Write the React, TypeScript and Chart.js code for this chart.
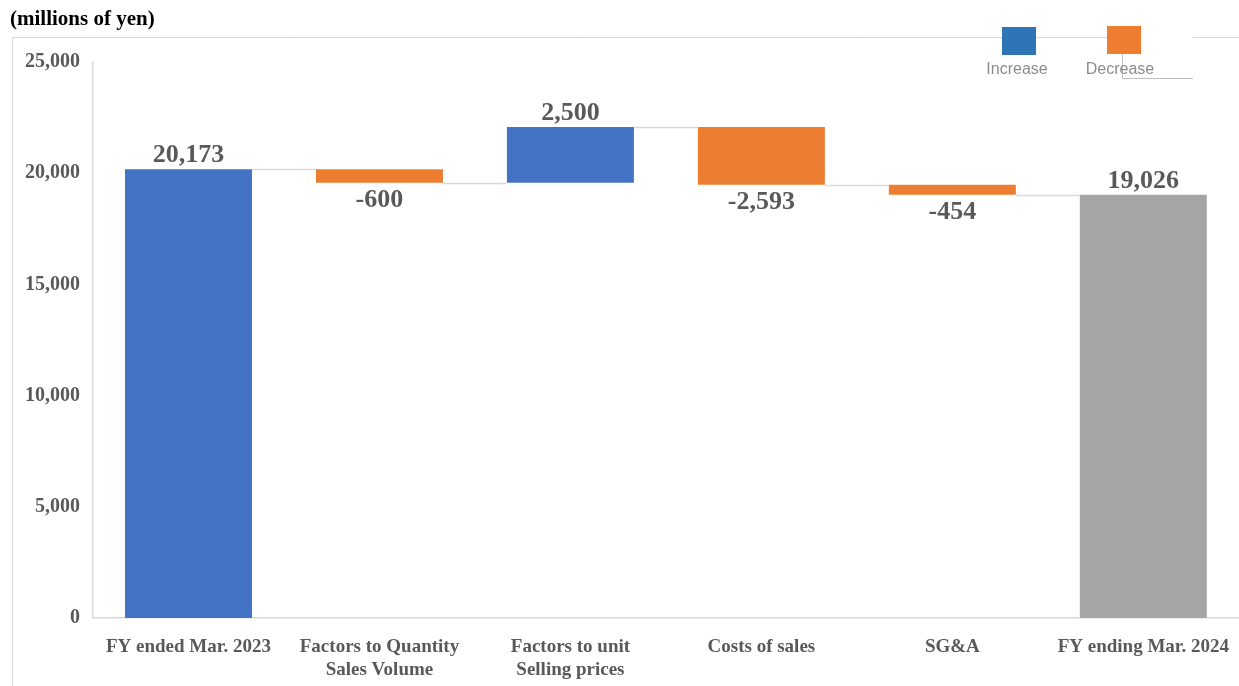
import React, { useEffect, useRef } from "react";
import { Chart, registerables } from "chart.js";

Chart.register(...registerables);

const categories: string[][] = [
  ["FY ended Mar. 2023"],
  ["Factors to Quantity", "Sales Volume"],
  ["Factors to unit", "Selling prices"],
  ["Costs of sales"],
  ["SG&A"],
  ["FY ending Mar. 2024"],
];
const changes = [20173, -600, 2500, -2593, -454, 19026];
const kinds = ["total", "change", "change", "change", "change", "total"];
const barColors = ["#4472C4", "#ED7D31", "#4472C4", "#ED7D31", "#ED7D31", "#A5A5A5"];
const yTicks = [0, 5000, 10000, 15000, 20000, 25000];
const legendItems = [
  { label: "Increase", color: "#2E75B6" },
  { label: "Decrease", color: "#ED7D31" },
];

const fmt = (v: number) => v.toLocaleString("en-US");

function buildRanges() {
  const ranges: [number, number][] = [];
  const levels: number[] = [];
  let run = 0;
  changes.forEach((c, i) => {
    if (kinds[i] === "total") {
      ranges.push([0, c]);
      run = c;
    } else {
      ranges.push([run, run + c]);
      run = run + c;
    }
    levels.push(run);
  });
  return { ranges, levels };
}

export default function App() {
  const ref = useRef<HTMLCanvasElement | null>(null);
  useEffect(() => {
    const { ranges, levels } = buildRanges();
    const SERIF = "'Liberation Serif', 'Times New Roman', serif";

    const overlay = {
      id: "overlay",
      beforeDraw(chart: any) {
        const ctx = chart.ctx;
        ctx.save();
        ctx.fillStyle = "#fff";
        ctx.fillRect(0, 0, chart.width, chart.height);
        // frame
        ctx.strokeStyle = "#D9D9D9";
        ctx.lineWidth = 1;
        ctx.beginPath();
        ctx.moveTo(12.5, 686);
        ctx.lineTo(12.5, 37.5);
        ctx.lineTo(1141, 37.5);
        ctx.moveTo(1193, 37.5);
        ctx.lineTo(1239, 37.5);
        ctx.stroke();
        ctx.strokeStyle = "#BFBFBF";
        ctx.beginPath();
        ctx.moveTo(1122.5, 54);
        ctx.lineTo(1122.5, 78.5);
        ctx.lineTo(1193, 78.5);
        ctx.stroke();
        // title
        ctx.fillStyle = "#000";
        ctx.font = `bold 21px ${SERIF}`;
        ctx.textAlign = "left";
        ctx.textBaseline = "alphabetic";
        ctx.fillText("(millions of yen)", 10, 25);
        ctx.restore();
      },
      afterDatasetsDraw(chart: any) {
        const ctx = chart.ctx;
        const meta = chart.getDatasetMeta(0);
        const y = chart.scales.y;
        ctx.save();
        // connectors
        ctx.strokeStyle = "#D9D9D9";
        ctx.lineWidth = 1.5;
        for (let i = 0; i < meta.data.length - 1; i++) {
          const a = meta.data[i];
          const b = meta.data[i + 1];
          const py = Math.round(y.getPixelForValue(levels[i])) + 0.5;
          ctx.beginPath();
          ctx.moveTo(a.x + a.width / 2, py);
          ctx.lineTo(b.x - b.width / 2, py);
          ctx.stroke();
        }
        // labels
        ctx.fillStyle = "#595959";
        ctx.font = `bold 26px ${SERIF}`;
        ctx.textAlign = "center";
        meta.data.forEach((el: any, i: number) => {
          const top = Math.min(el.y, el.base);
          const bottom = Math.max(el.y, el.base);
          const v = changes[i];
          ctx.textBaseline = "alphabetic";
          if (v >= 0) {
            ctx.fillText(fmt(v), el.x, top - 7);
          } else {
            ctx.fillText(fmt(v), el.x, bottom + 24);
          }
        });
        // legend
        ctx.font = "16px 'Liberation Sans', Arial, sans-serif";
        const boxes = [
          { x: 1002, y: 27, cx: 1017 },
          { x: 1107, y: 26, cx: 1120 },
        ];
        legendItems.forEach((it, i) => {
          const b = boxes[i];
          ctx.fillStyle = it.color;
          ctx.fillRect(b.x, b.y, 34, 28);
          ctx.fillStyle = "#8C8C8C";
          ctx.textAlign = "center";
          ctx.textBaseline = "alphabetic";
          ctx.fillText(it.label, b.cx, 74);
        });
        ctx.restore();
      },
    };

    const chart = new Chart(ref.current as HTMLCanvasElement, {
      type: "bar",
      data: {
        labels: categories,
        datasets: [
          {
            data: ranges,
            backgroundColor: barColors,
            barPercentage: 0.665,
            categoryPercentage: 1,
            borderWidth: 0,
          },
        ],
      },
      options: {
        animation: false,
        responsive: false,
        maintainAspectRatio: false,
        layout: { padding: { top: 62, left: 0, right: 0, bottom: 0 } },
        plugins: {
          legend: { display: false },
          tooltip: { enabled: false },
          title: { display: false },
        },
        scales: {
          x: {
            grid: { display: false },
            border: { display: true, color: "#D9D9D9", width: 1.5 },
            ticks: {
              color: "#595959",
              font: { family: SERIF, size: 19, weight: "bold", lineHeight: 1.2 },
              padding: 10,
              maxRotation: 0,
              autoSkip: false,
            },
            afterFit: (s: any) => {
              s.height = 68;
            },
          },
          y: {
            min: 0,
            max: 25000,
            afterBuildTicks: (s: any) => {
              s.ticks = yTicks.map((v) => ({ value: v }));
            },
            grid: { display: false },
            border: { display: true, color: "#D9D9D9", width: 1.5 },
            ticks: {
              color: "#595959",
              font: { family: SERIF, size: 20, weight: "bold" },
              padding: 5,
              callback: (v: any) => fmt(Number(v)),
            },
            afterFit: (s: any) => {
              s.width = 93;
            },
          },
        },
      },
      plugins: [overlay],
    });
    return () => chart.destroy();
  }, []);

  return (
    <div style={{ position: "absolute", left: 0, top: 0, width: 1239, height: 686 }}>
      <canvas ref={ref} width={1239} height={686} style={{ width: 1239, height: 686, display: "block" }} />
    </div>
  );
}
